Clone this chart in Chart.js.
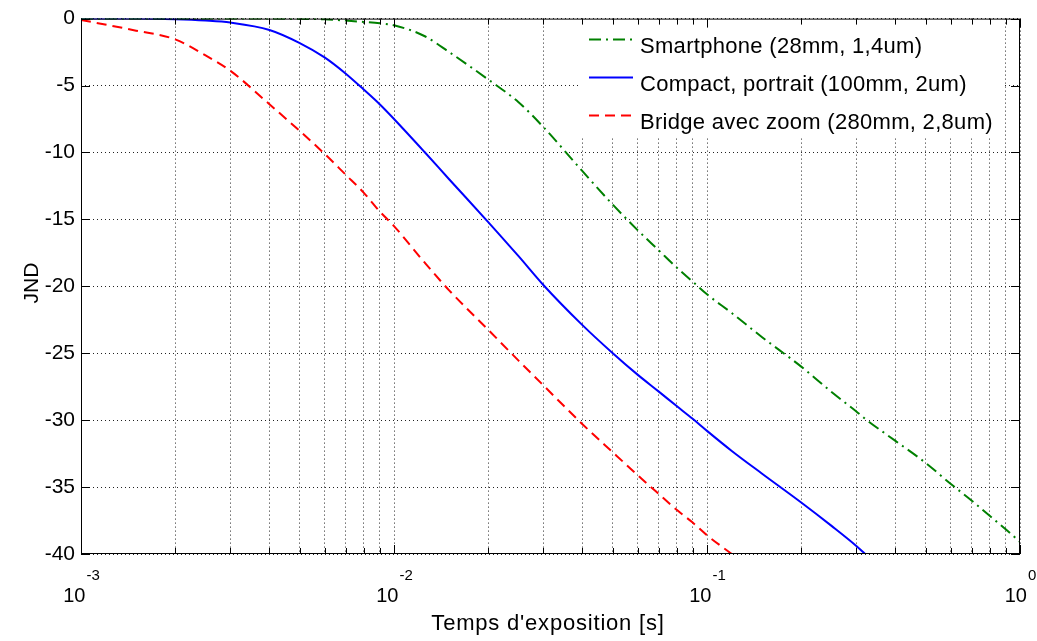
<!DOCTYPE html>
<html>
<head>
<meta charset="utf-8">
<script src="https://cdn.jsdelivr.net/npm/chart.js@4.4.0/dist/chart.umd.min.js"></script>
<style>
  html, body { margin: 0; padding: 0; background: #fff; }
  #wrap { width: 1037px; height: 641px; position: relative; }
</style>
</head>
<body>
<div id="wrap"><canvas id="jndChart"></canvas></div>
<script>
// exposure times [s]
const times = [0.001, 0.0015, 0.002, 0.0025, 0.003, 0.004, 0.005, 0.006, 0.007, 0.008, 0.009,
  0.01, 0.0125, 0.015, 0.02, 0.025, 0.03, 0.04, 0.05, 0.06, 0.07, 0.08, 0.09,
  0.1, 0.12, 0.15, 0.2, 0.25, 0.3, 0.32, 0.4, 0.5, 0.6, 0.7, 0.8, 0.9, 1.0];

// JND values per camera
const smartphone = [0, 0, 0, 0, 0, 0, -0.02, -0.05, -0.15, -0.25, -0.35,
  -0.5, -1.3, -2.5, -4.55, -6.25, -8.1, -11.4, -13.9, -15.8, -17.3, -18.6, -19.65,
  -20.6, -22.0, -23.8, -26.0, -27.9, -29.35, -29.9, -31.55, -33.2, -34.75, -36.0, -37.15, -38.15, -39.1];
const compact = [0, 0, -0.05, -0.15, -0.3, -0.85, -1.83, -2.9, -4.1, -5.3, -6.4,
  -7.5, -9.95, -12.0, -15.2, -17.75, -19.9, -22.9, -25.0, -26.6, -27.85, -28.95, -29.9,
  -30.8, -32.3, -34.0, -36.15, -37.9, -39.4, -40, null, null, null, null, null, null, null];
const bridge = [-0.1, -0.9, -1.55, -2.75, -3.9, -6.4, -8.4, -10.1, -11.65, -13.0, -14.4,
  -15.5, -18.2, -20.3, -23.25, -25.55, -27.4, -30.3, -32.4, -34.1, -35.5, -36.7, -37.65,
  -38.6, -40, null, null, null, null, null, null, null, null, null, null, null, null];

const seriesNames = ['Smartphone (28mm, 1,4um)', 'Compact, portrait (100mm, 2um)', 'Bridge avec zoom (280mm, 2,8um)'];
const decades = [-3, -2, -1, 0];
const yTicks = [-40, -35, -30, -25, -20, -15, -10, -5, 0];

// grid positions 1..9 x 10^n on the log axis
const xGrid = [];
decades.forEach(e => {
  for (let m = 1; m <= 9; m++) {
    const v = m * Math.pow(10, e);
    if (v <= 1) xGrid.push(v);
  }
});

const font = 'Liberation Sans, Arial, Helvetica, sans-serif';

// MATLAB-like box, inward ticks, 10^n labels, titles and legend
const matlabAxes = {
  id: 'matlabAxes',
  afterDraw(chart) {
    const ctx = chart.ctx;
    const a = chart.chartArea;
    const xs = chart.scales.x;
    const ys = chart.scales.y;
    ctx.save();

    // legend
    const lx = 578, ly = 22, lw = 424, lh = 115;
    ctx.fillStyle = '#fff';
    ctx.fillRect(lx, ly, lw, lh);
    const rows = [39.5, 77.5, 115.5];
    chart.data.datasets.forEach((ds, i) => {
      ctx.strokeStyle = ds.borderColor;
      ctx.lineWidth = 2;
      ctx.setLineDash(ds.borderDash || []);
      ctx.beginPath();
      ctx.moveTo(589, rows[i]);
      ctx.lineTo(633, rows[i]);
      ctx.stroke();
      ctx.setLineDash([]);
      ctx.fillStyle = '#000';
      ctx.font = '22px ' + font;
      ctx.letterSpacing = '0.3px';
      ctx.textAlign = 'left';
      ctx.textBaseline = 'alphabetic';
      ctx.fillText(seriesNames[i], 640, rows[i] + 13.5);
    });
    ctx.letterSpacing = '0px';

    // box
    ctx.strokeStyle = '#000';
    ctx.lineWidth = 1;
    ctx.strokeRect(a.left + 0.5, a.top + 0.5, a.right - a.left - 1, a.bottom - a.top - 1);

    // inward ticks
    ctx.beginPath();
    xGrid.forEach(v => {
      const px = Math.round(xs.getPixelForValue(v)) + 0.5;
      const major = decades.some(e => Math.abs(v - Math.pow(10, e)) < 1e-12);
      const len = major ? 9 : 6;
      ctx.moveTo(px, a.bottom); ctx.lineTo(px, a.bottom - len);
      ctx.moveTo(px, a.top); ctx.lineTo(px, a.top + len);
    });
    yTicks.forEach(v => {
      const py = Math.round(ys.getPixelForValue(v)) + 0.5;
      ctx.moveTo(a.left, py); ctx.lineTo(a.left + 9, py);
      ctx.moveTo(a.right, py); ctx.lineTo(a.right - 9, py);
    });
    ctx.stroke();

    // x tick labels 10^n
    ctx.fillStyle = '#000';
    ctx.textAlign = 'left';
    ctx.textBaseline = 'alphabetic';
    decades.forEach(e => {
      const px = xs.getPixelForValue(Math.pow(10, e));
      const base = '10', exp = String(e);
      ctx.font = '20px ' + font;
      const wb = ctx.measureText(base).width;
      ctx.font = '15px ' + font;
      const we = ctx.measureText(exp).width;
      const x0 = px - (wb + we) / 2;
      ctx.font = '20px ' + font;
      ctx.fillText(base, x0, 602);
      ctx.font = '15px ' + font;
      ctx.fillText(exp, x0 + wb + 1, 580);
    });

    // axis titles
    ctx.font = '22px ' + font;
    ctx.letterSpacing = '0.8px';
    ctx.textAlign = 'center';
    ctx.fillText("Temps d'exposition [s]", 548, 630);
    ctx.letterSpacing = '0px';
    ctx.font = '21px ' + font;
    ctx.save();
    ctx.translate(38, 283);
    ctx.rotate(-Math.PI / 2);
    ctx.fillText('JND', 0, 0);
    ctx.restore();

    ctx.restore();
  }
};

const ctx = document.getElementById('jndChart').getContext('2d');
const jndChart = new Chart(ctx, {
  type: 'line',
  data: {
    labels: times,
    datasets: [
      {
        label: seriesNames[0],
        data: smartphone,
        borderColor: '#008000',
        borderWidth: 2,
        borderDash: [12, 5, 2, 5],
        pointRadius: 0,
        cubicInterpolationMode: 'monotone',
        fill: false
      },
      {
        label: seriesNames[1],
        data: compact,
        borderColor: '#0000ff',
        borderWidth: 2,
        pointRadius: 0,
        cubicInterpolationMode: 'monotone',
        fill: false
      },
      {
        label: seriesNames[2],
        data: bridge,
        borderColor: '#ff0000',
        borderWidth: 2,
        borderDash: [10, 6],
        pointRadius: 0,
        cubicInterpolationMode: 'monotone',
        fill: false
      }
    ]
  },
  options: {
    responsive: true,
    maintainAspectRatio: false,
    animation: false,
    spanGaps: false,
    layout: { padding: { top: 10, right: 17, left: 0, bottom: 0 } },
    plugins: {
      legend: { display: false },
      tooltip: { enabled: false }
    },
    scales: {
      x: {
        type: 'logarithmic',
        min: 0.001,
        max: 1,
        afterBuildTicks: scale => { scale.ticks = xGrid.map(v => ({ value: v })); },
        afterFit: scale => { scale.height = 87; },
        ticks: { display: false, autoSkip: false },
        grid: { color: '#222', lineWidth: 1, drawTicks: false },
        border: { display: false, dash: [1, 3] }
      },
      y: {
        type: 'linear',
        min: -40,
        max: 0,
        afterFit: scale => { scale.width = 81; },
        ticks: {
          stepSize: 5,
          color: '#000',
          padding: 6,
          font: { family: font, size: 21 }
        },
        grid: { color: '#222', lineWidth: 1, drawTicks: false },
        border: { display: false, dash: [1, 3] }
      }
    }
  },
  plugins: [matlabAxes]
});
</script>
</body>
</html>
